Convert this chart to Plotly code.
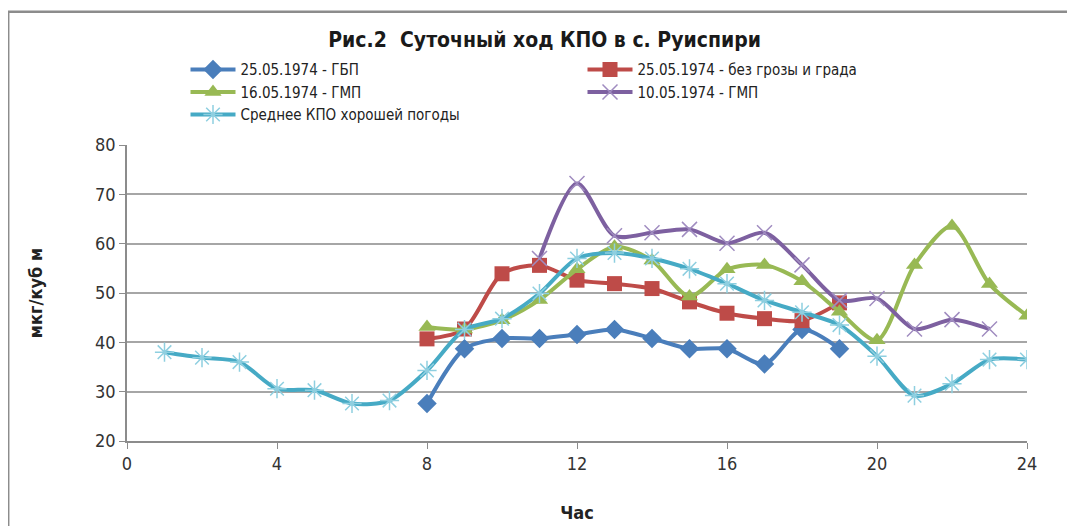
"""Суточный ход КПО в с. Руиспири (рис. 2) в Plotly."""

import plotly.graph_objects as go

CHASY = list(range(1, 25))

CHASY_GBP = list(range(8, 20))
KPO_GBP = [27.6, 38.7, 40.8, 40.8, 41.6, 42.6, 40.8, 38.7, 38.7, 35.6, 42.6, 38.7]

CHASY_BEZ_GROZY = list(range(8, 20))
KPO_BEZ_GROZY = [40.7, 42.7, 53.9, 55.6, 52.6, 51.9, 50.9, 48.2, 45.9, 44.8, 44.4, 48.0]

CHASY_GMP_16 = list(range(8, 25))
KPO_GMP_16 = [43.1, 42.6, 44.5, 48.6, 54.8, 59.4, 56.6, 49.3, 54.8, 55.7, 52.4, 46.2,
              40.4, 55.7, 63.6, 51.8, 45.4]

CHASY_GMP_10 = list(range(11, 24))
KPO_GMP_10 = [57.0, 72.2, 61.6, 62.2, 62.9, 60.1, 62.2, 55.7, 48.5, 48.9, 42.7, 44.6, 42.7]

KPO_SREDNEE = [38.0, 36.9, 36.0, 30.6, 30.3, 27.6, 28.2, 34.3, 42.6, 44.8, 49.9, 57.0,
               58.1, 57.0, 54.9, 51.9, 48.5, 46.1, 43.5, 37.2, 29.2, 31.6, 36.5, 36.5]

COR_AZUL = "#4A7EBB"
COR_VERMELHO = "#BE4B48"
COR_VERDE = "#98B954"
COR_ROXO = "#7D60A0"
COR_CIANO = "#46AAC5"

FONTE = "DejaVu Sans Condensed, Liberation Sans Narrow, Liberation Sans, sans-serif"

series = [
    ("25.05.1974 - ГБП", CHASY_GBP, KPO_GBP, COR_AZUL,
     dict(symbol="diamond", size=15, color=COR_AZUL)),
    ("25.05.1974 - без грозы и града", CHASY_BEZ_GROZY, KPO_BEZ_GROZY, COR_VERMELHO,
     dict(symbol="square", size=15, color=COR_VERMELHO)),
    ("16.05.1974 - ГМП", CHASY_GMP_16, KPO_GMP_16, COR_VERDE,
     dict(symbol="triangle-up", size=15, color=COR_VERDE)),
    ("10.05.1974 - ГМП", CHASY_GMP_10, KPO_GMP_10, COR_ROXO,
     dict(symbol="x-thin-open", size=15, color="#A08CC0", line=dict(width=1.5, color="#A08CC0"))),
    ("Среднее КПО хорошей погоды", CHASY, KPO_SREDNEE, COR_CIANO,
     dict(symbol="asterisk-open", size=16, color="#8ECFE0", line=dict(width=1.5, color="#8ECFE0"))),
]

fig = go.Figure()
for nome, x, y, cor, marcador in series:
    fig.add_trace(
        go.Scatter(
            x=x, y=y, name=nome, mode="lines+markers",
            line=dict(color=cor, width=4, shape="spline", smoothing=0.8),
            marker=marcador,
        )
    )

# Рамка вокруг всей диаграммы, как в исходном рисунке.
fig.add_shape(
    type="rect", xref="paper", yref="paper",
    x0=-0.132, x1=1.2, y0=-0.5, y1=1.45,
    line=dict(color="#8C8C8C", width=2.5), fillcolor="rgba(0,0,0,0)",
)

fig.update_xaxes(
    range=[0, 24], tickvals=[0, 4, 8, 12, 16, 20, 24], showgrid=False,
    ticks="outside", ticklen=6, tickcolor="#8C8C8C",
    showline=True, linecolor="#8C8C8C", linewidth=1.5,
    tickfont=dict(size=18, color="#333333", family=FONTE),
    title=dict(text="<b>Час</b>", font=dict(size=18, color="#222222", family=FONTE), standoff=33),
    zeroline=False,
)
fig.update_yaxes(
    range=[20, 80], dtick=10, showgrid=True, gridcolor="#A6A6A6", gridwidth=1.5,
    ticks="outside", ticklen=6, tickcolor="#8C8C8C",
    showline=True, linecolor="#8C8C8C", linewidth=1.5,
    tickfont=dict(size=18, color="#333333", family=FONTE),
    title=dict(text="<b>мкг/куб м</b>", font=dict(size=18, color="#222222", family=FONTE), standoff=48),
    zeroline=False,
)
fig.update_layout(
    width=1075, height=526,
    plot_bgcolor="white", paper_bgcolor="white",
    margin=dict(l=119, r=56, t=137, b=93),
    font=dict(family=FONTE, color="#222222"),
    title=dict(
        text="<b>Рис.2  Суточный ход КПО в с. Руиспири</b>",
        x=0.464, xref="paper", xanchor="center", y=0.94, yanchor="middle",
        font=dict(size=21, family=FONTE, color="#1A1A1A"),
    ),
    legend=dict(
        orientation="h", x=0.065, xanchor="left", y=1.31, yanchor="top",
        entrywidth=337, font=dict(size=15, family=FONTE), tracegroupgap=0,
        itemwidth=45,
    ),
    showlegend=True,
)

fig.write_html("out.html")
